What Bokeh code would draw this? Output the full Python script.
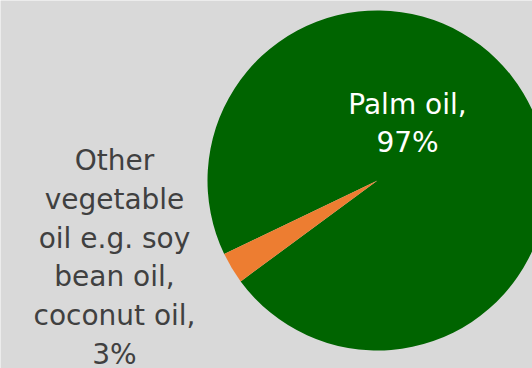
from bokeh.plotting import figure
from bokeh.models import ColumnDataSource
from bokeh.embed import file_html
from bokeh.resources import INLINE
from bokeh.core.properties import value
import math

categories = ["Palm oil", "Other vegetable oil e.g. soy bean oil, coconut oil"]
shares = [97, 3]
labels = ["Palm oil,\n97%", "Other\nvegetable\noil e.g. soy\nbean oil,\ncoconut oil,\n3%"]
colors = ["#006400", "#ED7D31"]

W, H = 532, 368
BG = "#d9d9d9"
cx, cy, r = 377, 188, 170
start_deg = 205.6  # where the small slice begins (counter-clockwise from east)

total = sum(shares)
starts, ends = [0, 0], [0, 0]
a = math.radians(start_deg)
for i in [1, 0]:
    span = shares[i] / total * 2 * math.pi
    starts[i] = a
    ends[i] = a + span
    a += span

src = ColumnDataSource(dict(cat=categories, share=shares, start=starts, end=ends, color=colors,
                            x=[cx] * 2, y=[cy] * 2))

p = figure(width=W, height=H, x_range=(0, W), y_range=(0, H), output_backend="svg",
           toolbar_location=None, min_border=0, background_fill_color=BG, border_fill_color=BG)
p.axis.visible = False
p.grid.visible = False
p.outline_line_color = None

p.wedge(x="x", y="y", radius=r, start_angle="start", end_angle="end", fill_color="color",
        line_color=None, source=src)

lsrc = ColumnDataSource(dict(x=[407, 114], y=[245, 111], text=labels, color=["#ffffff", "#404040"]))
p.text(x="x", y="y", text="text", text_color="color", source=lsrc, text_align="center",
       text_baseline="middle", text_font=value("DejaVu Sans"), text_font_size="28px",
       text_line_height=1.17)

open("out.html", "w").write(file_html(p, INLINE))
